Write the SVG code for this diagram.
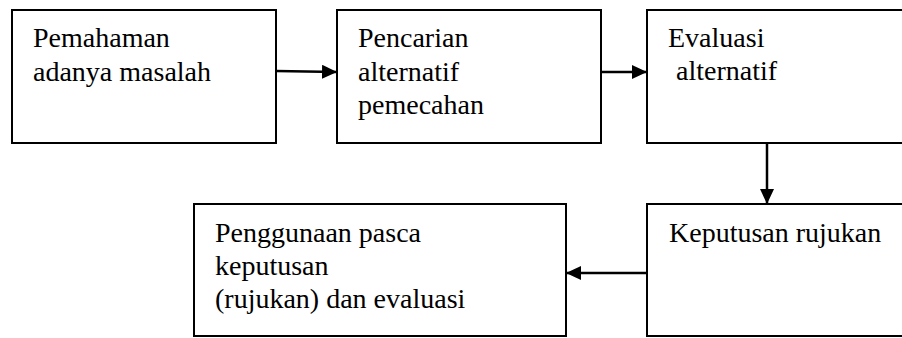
<svg xmlns="http://www.w3.org/2000/svg" width="902" height="338" viewBox="0 0 902 338">
<style>
.box{fill:#fff;stroke:#000;stroke-width:2}
.t{font-family:'Liberation Serif','Times New Roman','DejaVu Serif',serif;font-size:28px;fill:#000}
.c{stroke:#000;stroke-width:2.5;fill:none}
</style>
<defs>
<marker id="ah" viewBox="0 0 15 14" refX="15" refY="7" markerWidth="15" markerHeight="14" markerUnits="userSpaceOnUse" orient="auto">
<path d="M0,0 L15,7 L0,14 Z" fill="#000"/>
</marker>
</defs>
<rect width="902" height="338" fill="#fff"/>
<g id="n1">
<rect class="box" x="12" y="10" width="264" height="133"/>
<text class="t" x="33" y="47">Pemahaman</text>
<text class="t" x="33" y="81">adanya masalah</text>
</g>
<g id="n2">
<rect class="box" x="337" y="10" width="264" height="133"/>
<text class="t" x="358" y="47">Pencarian</text>
<text class="t" x="358" y="81">alternatif</text>
<text class="t" x="358" y="114">pemecahan</text>
</g>
<g id="n3">
<rect class="box" x="647" y="10" width="270" height="133"/>
<text class="t" x="668" y="47">Evaluasi</text>
<text class="t" x="676" y="80">alternatif</text>
</g>
<g id="n4">
<rect class="box" x="647" y="204" width="270" height="132"/>
<text class="t" x="669" y="242">Keputusan rujukan</text>
</g>
<g id="n5">
<rect class="box" x="194" y="204" width="372" height="132"/>
<text class="t" x="215" y="242">Penggunaan pasca</text>
<text class="t" x="215" y="275">keputusan</text>
<text class="t" x="215" y="308">(rujukan) dan evaluasi</text>
</g>
<g id="connectors">
<path class="c" d="M276,71 L337,72" marker-end="url(#ah)"/>
<path class="c" d="M601,72 L647,72" marker-end="url(#ah)"/>
<path class="c" d="M767,143 L767,204" marker-end="url(#ah)"/>
<path class="c" d="M647,273 L566,273" marker-end="url(#ah)"/>
</g>
</svg>
